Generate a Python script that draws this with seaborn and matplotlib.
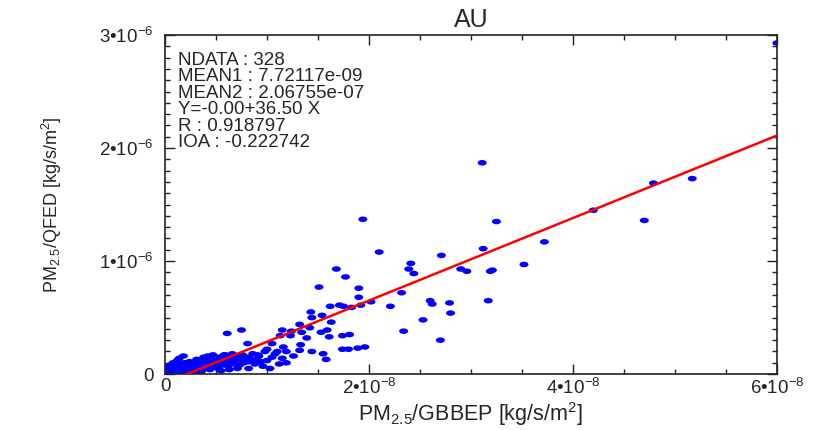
import numpy as np
import matplotlib
matplotlib.use('Agg')
import matplotlib.pyplot as plt
import seaborn as sns
from matplotlib.path import Path
from matplotlib.transforms import Affine2D
from matplotlib.ticker import MultipleLocator

# scattered points (x in 1e-8, y in 1e-6)
spread_x = [6.00, 3.11, 3.25, 2.71, 3.12, 2.90, 2.96, 3.19, 3.21, 3.52, 3.72, 4.20, 4.70, 4.79, 5.17,
            2.60, 2.62, 2.79, 2.80, 3.17, 2.70, 1.94, 2.10, 1.68, 1.77, 1.51, 1.90, 1.90, 2.41, 2.39,
            2.44, 2.32, 2.21, 2.53, 2.34, 1.62, 1.71, 1.75, 1.83, 1.92, 2.02, 1.43, 1.54, 1.44, 1.63,
            1.32, 1.15, 1.24, 1.34, 1.42, 1.53, 1.59, 1.13, 1.23, 1.39, 1.61, 1.74, 1.81, 1.74, 1.80,
            1.89, 1.96, 1.05, 1.16, 1.33, 1.32, 1.10, 1.19, 1.26, 1.44, 1.55, 1.58, 1.19, 1.05, 0.61,
            0.75, 0.81, 0.18, 0.43, 0.59, 0.74, 0.91, 1.00, 0.82, 0.96]
spread_y = [2.93, 1.87, 1.35, 1.05, 1.11, 0.93, 0.91, 0.91, 0.92, 0.97, 1.17, 1.45, 1.36, 1.69, 1.73,
            0.65, 0.62, 0.63, 0.54, 0.65, 0.30, 1.37, 1.08, 0.93, 0.86, 0.77, 0.76, 0.68, 0.98, 0.93,
            0.89, 0.72, 0.60, 0.48, 0.38, 0.60, 0.61, 0.60, 0.59, 0.61, 0.64, 0.55, 0.52, 0.50, 0.46,
            0.44, 0.39, 0.38, 0.37, 0.41, 0.37, 0.39, 0.34, 0.34, 0.32, 0.33, 0.34, 0.35, 0.22, 0.22,
            0.23, 0.24, 0.27, 0.24, 0.26, 0.21, 0.20, 0.20, 0.16, 0.20, 0.18, 0.13, 0.10, 0.15, 0.36,
            0.39, 0.27, 0.16, 0.15, 0.17, 0.17, 0.17, 0.22, 0.05, 0.07]

# dense cluster near the origin
cluster_x = [0.00, 0.02, 0.03, 0.05, 0.06, 0.08, 0.04, 0.10, 0.12, 0.11, 0.14, 0.15, 0.17, 0.18, 0.20,
             0.21, 0.23, 0.25, 0.26, 0.28, 0.07, 0.09, 0.13, 0.01, 0.03, 0.16, 0.19, 0.22, 0.24, 0.27,
             0.29, 0.30, 0.32, 0.34, 0.33, 0.35, 0.37, 0.36, 0.39, 0.40, 0.41, 0.43, 0.44, 0.46, 0.45,
             0.48, 0.50, 0.49, 0.52, 0.53, 0.54, 0.56, 0.57, 0.58, 0.60, 0.61, 0.62, 0.64, 0.65, 0.66,
             0.68, 0.69, 0.70, 0.72, 0.73, 0.74, 0.76, 0.77, 0.78, 0.80, 0.81, 0.83, 0.85, 0.86, 0.88,
             0.90, 0.92, 0.94, 0.12, 0.08, 0.05, 0.14, 0.31, 0.38, 0.42, 0.47, 0.55, 0.63, 0.71, 0.02,
             0.10, 0.18, 0.06, 0.15, 0.25, 0.35, 1.00, 1.08, 1.12, 0.98, 1.03, 1.15]
cluster_y = [0.00, 0.01, 0.00, 0.02, 0.01, 0.03, 0.04, 0.02, 0.01, 0.04, 0.03, 0.06, 0.02, 0.05, 0.03,
             0.07, 0.04, 0.02, 0.06, 0.05, 0.06, 0.07, 0.08, 0.03, 0.06, 0.09, 0.10, 0.09, 0.11, 0.08,
             0.10, 0.03, 0.07, 0.05, 0.10, 0.12, 0.08, 0.03, 0.06, 0.10, 0.13, 0.08, 0.04, 0.11, 0.14,
             0.07, 0.12, 0.09, 0.05, 0.10, 0.15, 0.08, 0.12, 0.17, 0.10, 0.13, 0.07, 0.15, 0.11, 0.18,
             0.09, 0.13, 0.16, 0.12, 0.08, 0.14, 0.17, 0.10, 0.13, 0.15, 0.11, 0.14, 0.12, 0.18, 0.09,
             0.13, 0.16, 0.11, 0.12, 0.10, 0.08, 0.14, 0.13, 0.15, 0.16, 0.17, 0.03, 0.04, 0.05, 0.05,
             0.00, 0.00, 0.04, 0.01, 0.09, 0.01, 0.12, 0.18, 0.09, 0.20, 0.05, 0.14]

gbbep = np.array(spread_x + cluster_x) * 1e-8
qfed = np.array(spread_y + cluster_y) * 1e-6

fit_intercept = -7.9e-8
fit_slope = 36.5

stats_lines = ['NDATA : 328', 'MEAN1 : 7.72117e-09', 'MEAN2 : 2.06755e-07',
               'Y=-0.00+36.50 X', 'R : 0.918797', 'IOA : -0.222742']

x_ticks = [0, 2e-8, 4e-8, 6e-8]
x_tick_labels = ['0', '2•10$^{-8}$', '4•10$^{-8}$', '6•10$^{-8}$']
y_ticks = [0, 1e-6, 2e-6, 3e-6]
y_tick_labels = ['0', '1•10$^{-6}$', '2•10$^{-6}$', '3•10$^{-6}$']

sns.set_style('ticks')
plt.rcParams['font.family'] = ['Liberation Sans', 'DejaVu Sans']
plt.rcParams['mathtext.fontset'] = 'custom'
plt.rcParams['mathtext.rm'] = 'Liberation Sans'
plt.rcParams['mathtext.it'] = 'Liberation Sans'
plt.rcParams['mathtext.bf'] = 'Liberation Sans'

fig = plt.figure(figsize=(8.3, 4.3), dpi=100)
ax = fig.add_axes([0.1988, 0.130, 0.7372, 0.7884])

# elliptical dot like the original
dot = Path.unit_circle().transformed(Affine2D().scale(1.0, 0.62))
sns.scatterplot(x=gbbep, y=qfed, ax=ax, marker=dot, s=42, color='#0000ff',
                edgecolor='none', linewidth=0, zorder=2)

line_x = np.array([0, 6e-8])
line_y = fit_intercept + fit_slope * line_x
sns.lineplot(x=line_x, y=line_y, ax=ax, color='#ff0000', linewidth=1.8, zorder=3)

ax.set_xlim(0, 6e-8)
ax.set_ylim(0, 3e-6)
ax.set_xticks(x_ticks, x_tick_labels, fontsize=13.5)
ax.set_yticks(y_ticks, y_tick_labels, fontsize=13.5)
ax.xaxis.set_minor_locator(MultipleLocator(0.5e-8))
ax.yaxis.set_minor_locator(MultipleLocator(0.1e-6))
ax.tick_params(which='both', direction='in', top=True, right=True, width=1.0, color='#222222')
ax.tick_params(which='major', length=7)
ax.tick_params(which='minor', length=3.5)
ax.tick_params(axis='x', which='major', pad=3)
ax.tick_params(axis='y', which='major', pad=8)
for sp in ax.spines.values():
    sp.set_linewidth(1.2)
    sp.set_color('#222222')

ax.set_title('AU', fontsize=18, pad=6)
ax.set_xlabel('PM$_{2.5}$/GBBEP [kg/s/m$^2$]', fontsize=15.5)
ax.set_ylabel('PM$_{2.5}$/QFED [kg/s/m$^2$]', fontsize=13)
ax.xaxis.label.set_va('center')
ax.yaxis.label.set_va('center')
ax.xaxis.set_label_coords(0.5, -0.118)
ax.yaxis.set_label_coords(-0.185, 0.5)

for i, line in enumerate(stats_lines):
    ax.text(0.022, 0.925 - i * 0.0485, line, transform=ax.transAxes,
            fontsize=13.5, va='center', ha='left')

fig.savefig('out.png', dpi=100)
